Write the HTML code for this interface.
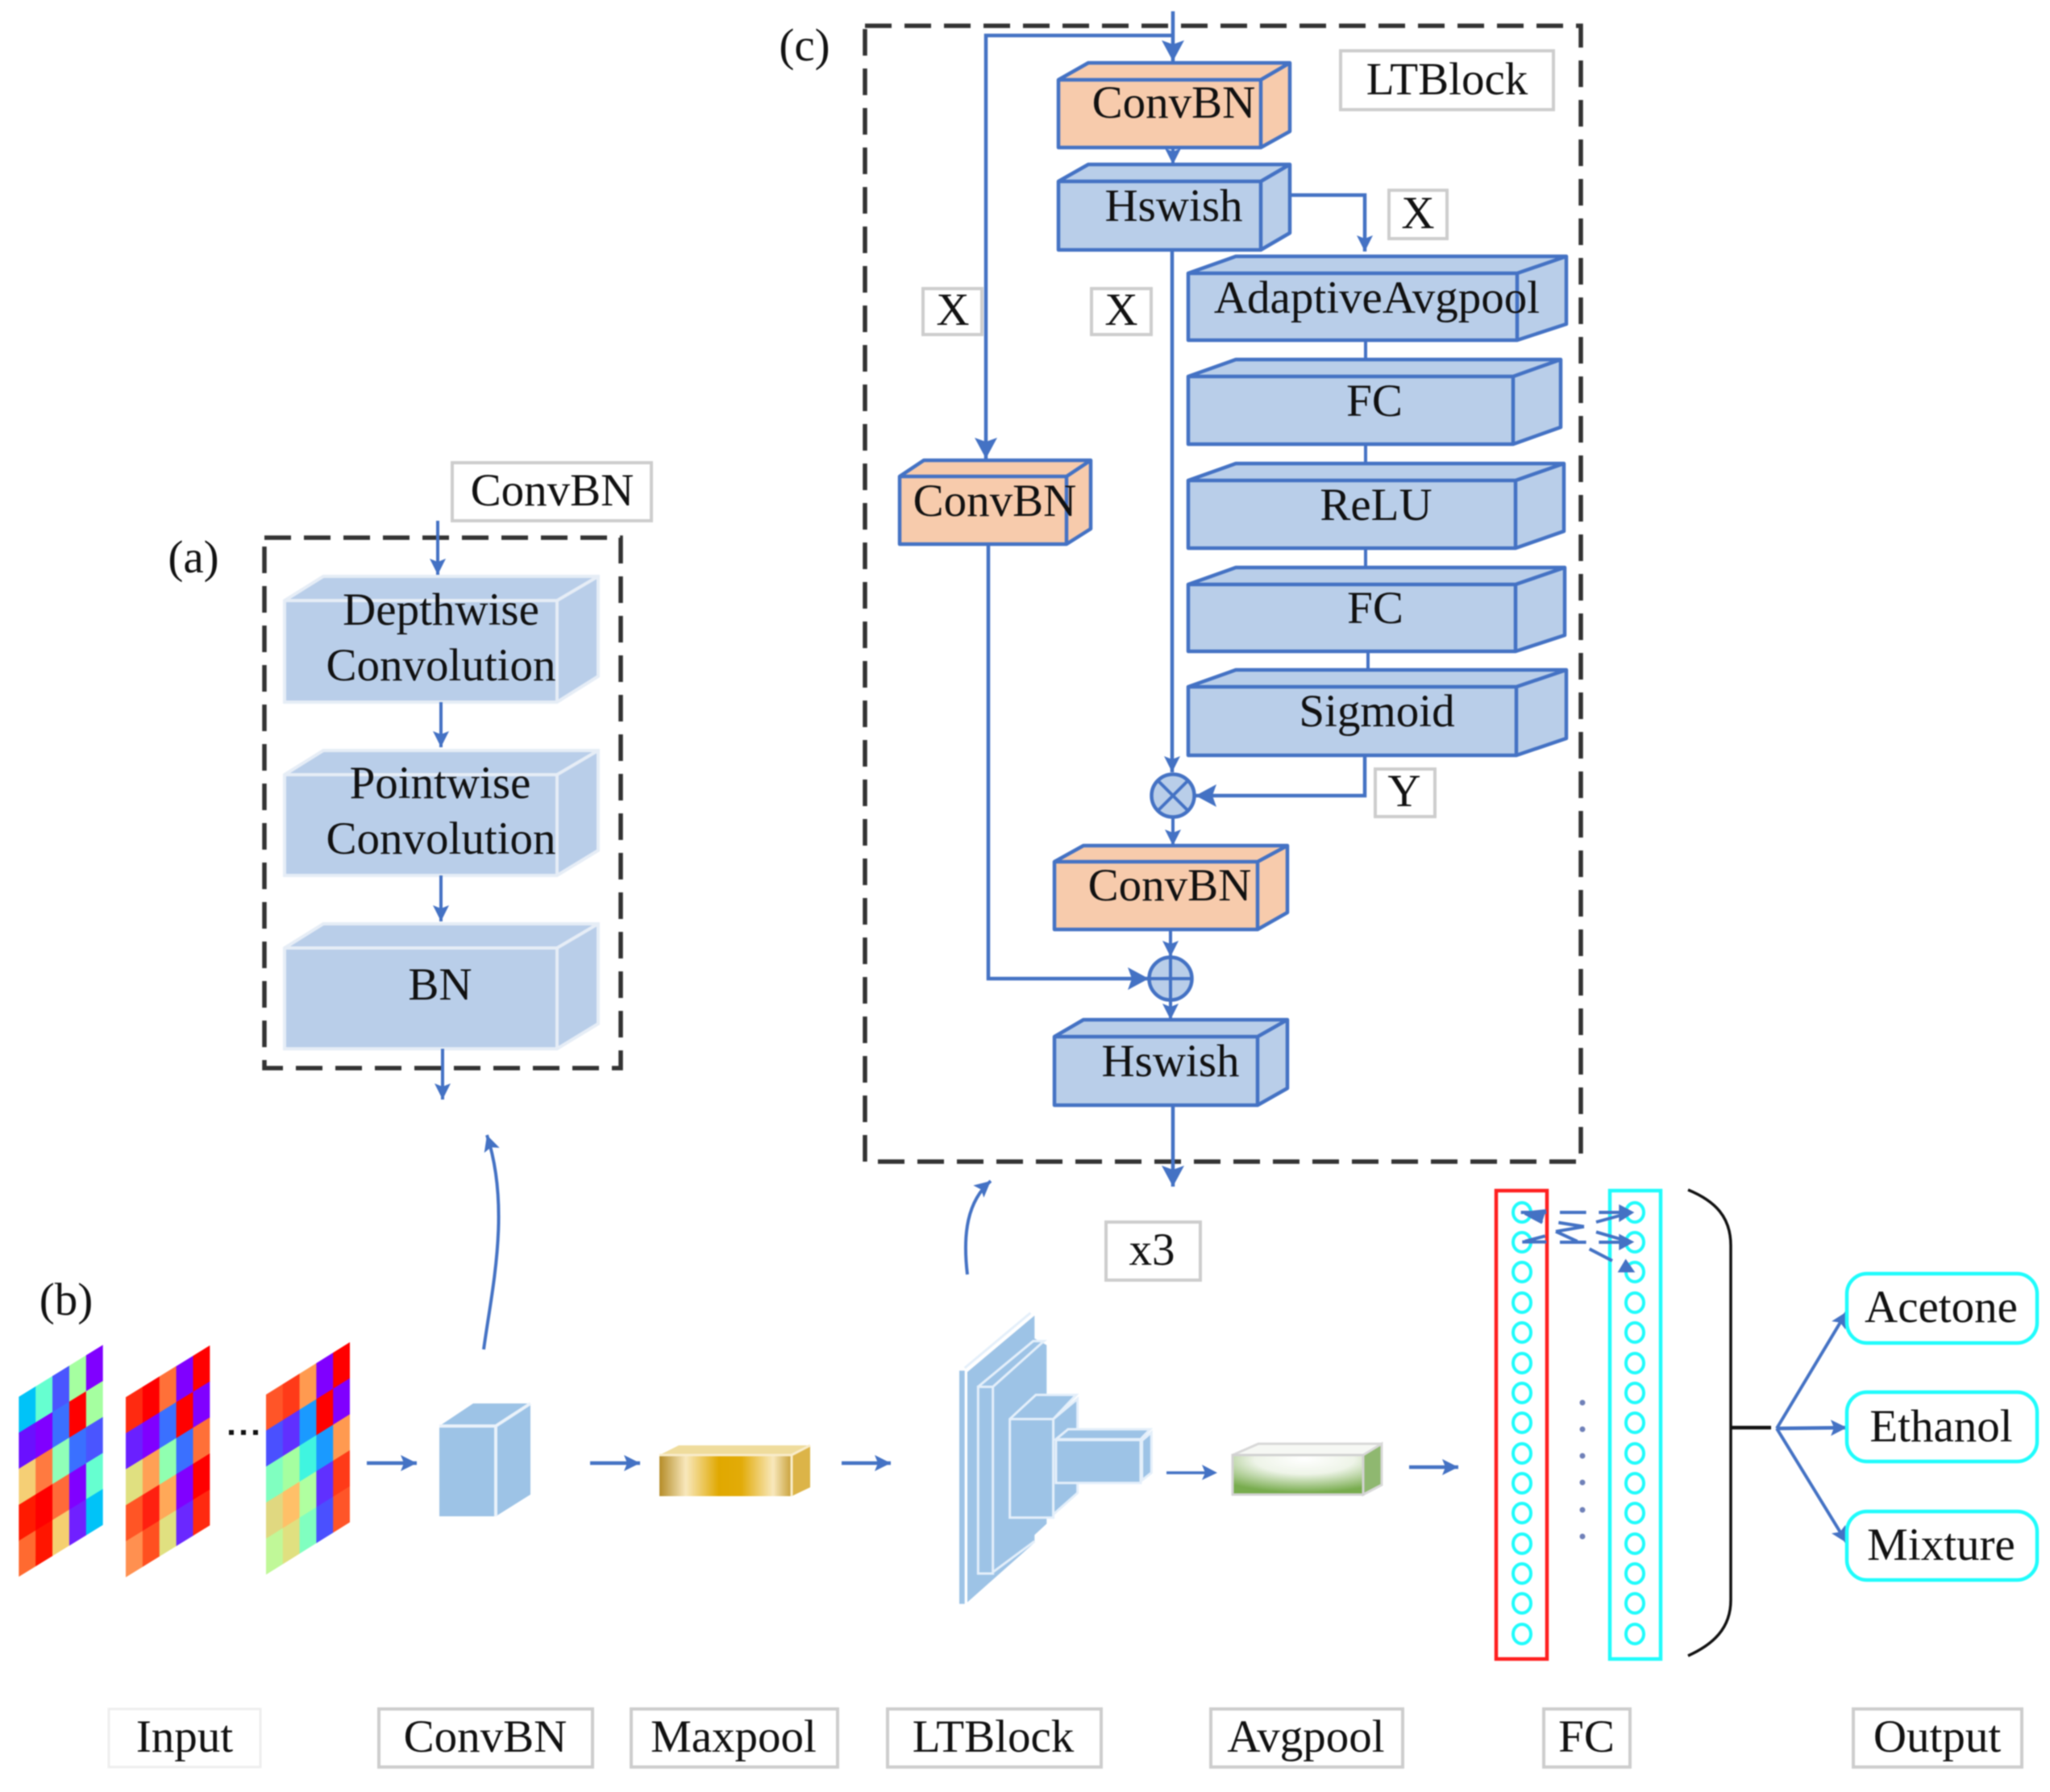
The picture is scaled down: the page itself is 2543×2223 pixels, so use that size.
<!DOCTYPE html>
<html><head><meta charset="utf-8"><title>Network diagram</title>
<style>
html,body{margin:0;padding:0;background:#fff}
svg{display:block;filter:blur(.8px)}
text{font-family:"Liberation Serif",serif;font-size:57px;fill:#111;text-anchor:middle}
.d{fill:none;stroke:#333;stroke-width:5.5;stroke-dasharray:33 16}
.l{fill:none;stroke:#4472c4;stroke-width:4}
.t{fill:none;stroke:#4472c4;stroke-width:4.5}
.bb{fill:#b9cee9;stroke:#4472c4;stroke-width:4.5;stroke-linejoin:round}
.pb{fill:#f7cbac;stroke:#4472c4;stroke-width:4.5;stroke-linejoin:round}
.wb{fill:#b9cee9;stroke:#e6edf6;stroke-width:4}
.lb{fill:#fff;stroke:#cdcdcd;stroke-width:4}
.k{fill:#9dc3e6;stroke:#e4effa;stroke-width:9}
.c{fill:none;stroke:#1ffcfc;stroke-width:4}
</style></head><body>
<svg xmlns="http://www.w3.org/2000/svg" width="2543" height="2223" viewBox="0 0 2543 2223">
<defs>
<marker id="a1" markerUnits="userSpaceOnUse" markerWidth="30" markerHeight="30" refX="26" refY="15" orient="auto"><path d="M0 1 L26 15 L0 29 L5 15z" fill="#4472c4"/></marker>
<marker id="a2" markerUnits="userSpaceOnUse" markerWidth="24" markerHeight="24" refX="20" refY="12" orient="auto"><path d="M0 2 L20 12 L0 22 L4 12z" fill="#4472c4"/></marker>
<linearGradient id="gold"><stop offset="0" stop-color="#b48c28"/><stop offset=".2" stop-color="#f8e8bc"/><stop offset=".45" stop-color="#e0a800"/><stop offset=".62" stop-color="#e2ab08"/><stop offset=".86" stop-color="#f8e8bc"/><stop offset="1" stop-color="#c8a038"/></linearGradient>
<radialGradient id="green" cx=".55" cy=".1" r=".85"><stop offset="0" stop-color="#fff"/><stop offset=".45" stop-color="#eef4e8"/><stop offset="1" stop-color="#78ac4e"/></radialGradient>
</defs>
<rect width="2543" height="2223" fill="#fff"/>

<!-- (c) dashed frame -->
<rect class="d" x="1073" y="32" width="888" height="1409"/>
<rect class="lb" x="1663" y="63" width="264" height="73"/>
<text x="1795" y="117">LTBlock</text>

<!-- boxes (c) -->
<path class="pb" d="M1313 99L1350 78H1600V163L1564 183H1313ZM1313 99H1564V183M1564 99L1600 78"/>
<path class="bb" d="M1313 225L1350 204H1600V289L1564 310H1313ZM1313 225H1564V310M1564 225L1600 204"/>
<path class="bb" d="M1474 339L1533 318H1943V402L1882 422H1474ZM1474 339H1882V422M1882 339L1943 318"/>
<path class="bb" d="M1474 467L1533 446H1936V530L1877 551H1474ZM1474 467H1877V551M1877 467L1936 446"/>
<path class="bb" d="M1474 596L1533 575H1940V659L1880 680H1474ZM1474 596H1880V680M1880 596L1940 575"/>
<path class="bb" d="M1474 725L1533 704H1941V788L1880 808H1474ZM1474 725H1880V808M1880 725L1941 704"/>
<path class="bb" d="M1474 852L1533 831H1943V916L1881 937H1474ZM1474 852H1881V937M1881 852L1943 831"/>
<path class="pb" d="M1116 591L1146 571H1353V656L1323 675H1116ZM1116 591H1323V675M1323 591L1353 571"/>
<path class="pb" d="M1308 1069L1344 1049H1597V1132L1560 1153H1308ZM1308 1069H1560V1153M1560 1069L1597 1049"/>
<path class="bb" d="M1308 1286L1344 1265H1597V1350L1560 1371H1308ZM1308 1286H1560V1371M1560 1286L1597 1265"/>

<!-- connectors (c) -->
<path class="t" d="M1455 14V76" marker-end="url(#a1)"/>
<path class="t" d="M1455 44H1223V569" marker-end="url(#a1)"/>
<path class="l" d="M1455 183V204" marker-end="url(#a2)"/>
<path class="t" d="M1600 242H1693V312" marker-end="url(#a2)"/>
<path class="l" d="M1694 422V446M1694 551V575M1694 680V704M1697 808V831"/>
<path class="t" d="M1454 310V958" marker-end="url(#a2)"/>
<path class="t" d="M1693 937V987H1483" marker-end="url(#a1)"/>
<path class="l" d="M1455 1014V1049" marker-end="url(#a2)"/>
<path class="l" d="M1452 1153V1187" marker-end="url(#a2)"/>
<path class="l" d="M1452 1241V1265" marker-end="url(#a2)"/>
<path class="t" d="M1226 675V1214H1425" marker-end="url(#a1)"/>
<path class="t" d="M1455 1371V1472" marker-end="url(#a1)"/>

<circle cx="1455" cy="987" r="26.5" fill="#b9cee9" stroke="#4472c4" stroke-width="4.5"/>
<path class="l" d="M1436 968L1474 1006M1474 968L1436 1006"/>
<circle cx="1452" cy="1214" r="26.5" fill="#b9cee9" stroke="#4472c4" stroke-width="4.5"/>
<path class="l" d="M1425 1214H1479M1452 1187V1241"/>

<rect class="lb" x="1723" y="236" width="72" height="60"/>
<rect class="lb" x="1145" y="358" width="73" height="57"/>
<rect class="lb" x="1354" y="358" width="74" height="57"/>
<rect class="lb" x="1706" y="954" width="74" height="59"/>
<text x="1759" y="283">X</text><text x="1182" y="403">X</text><text x="1391" y="403">X</text><text x="1742" y="1000">Y</text>
<text x="1456" y="146">ConvBN</text>
<text x="1456" y="274">Hswish</text>
<text x="1708" y="388">AdaptiveAvgpool</text>
<text x="1705" y="516">FC</text>
<text x="1707" y="645">ReLU</text>
<text x="1706" y="773">FC</text>
<text x="1708" y="901">Sigmoid</text>
<text x="1234" y="640">ConvBN</text>
<text x="1451" y="1117">ConvBN</text>
<text x="1452" y="1335">Hswish</text>
<text x="998" y="75">(c)</text>

<!-- (a) -->
<rect class="lb" x="561" y="574" width="247" height="72"/>
<text x="685" y="627">ConvBN</text>
<text x="240" y="710">(a)</text>
<rect class="d" x="328" y="667" width="442" height="658"/>
<path class="wb" d="M353 745L401 715H742V839L691 871H353ZM353 745H691V871M691 745L742 715"/>
<path class="wb" d="M353 961L401 931H742V1055L691 1086H353ZM353 961H691V1086M691 961L742 931"/>
<path class="wb" d="M353 1176L401 1146H742V1270L691 1301H353ZM353 1176H691V1301M691 1176L742 1146"/>
<path class="l" d="M543 646V713" marker-end="url(#a2)"/>
<path class="l" d="M547 871V927" marker-end="url(#a2)"/>
<path class="l" d="M547 1086V1143" marker-end="url(#a2)"/>
<path class="l" d="M549 1301V1364" marker-end="url(#a2)"/>
<text x="547" y="775">Depthwise</text><text x="547" y="844">Convolution</text>
<text x="546" y="990">Pointwise</text><text x="547" y="1059">Convolution</text>
<text x="546" y="1240">BN</text>

<!-- (b) -->
<text x="82" y="1631">(b)</text>
<g transform="matrix(20.87,-12.87,0,44.67,23.3,1732.7)">
<rect x="0" y="0" width="1.02" height="1.02" fill="#00c3f8"/><rect x="0" y="1" width="1.02" height="1.02" fill="#6a10ff"/><rect x="0" y="2" width="1.02" height="1.02" fill="#f5cf75"/><rect x="0" y="3" width="1.02" height="1.02" fill="#ff1a00"/><rect x="0" y="4" width="1.02" height="1" fill="#ff6a30"/>
<rect x="1" y="0" width="1.02" height="1.02" fill="#66ffd0"/><rect x="1" y="1" width="1.02" height="1.02" fill="#8000ff"/><rect x="1" y="2" width="1.02" height="1.02" fill="#ff7a40"/><rect x="1" y="3" width="1.02" height="1.02" fill="#ff0000"/><rect x="1" y="4" width="1.02" height="1" fill="#ff1500"/>
<rect x="2" y="0" width="1.02" height="1.02" fill="#4a55ff"/><rect x="2" y="1" width="1.02" height="1.02" fill="#3a70ff"/><rect x="2" y="2" width="1.02" height="1.02" fill="#90ffb8"/><rect x="2" y="3" width="1.02" height="1.02" fill="#ff6a38"/><rect x="2" y="4" width="1.02" height="1" fill="#f5d070"/>
<rect x="3" y="0" width="1.02" height="1.02" fill="#a5ffa0"/><rect x="3" y="1" width="1.02" height="1.02" fill="#ff0000"/><rect x="3" y="2" width="1.02" height="1.02" fill="#3a70ff"/><rect x="3" y="3" width="1.02" height="1.02" fill="#8000ff"/><rect x="3" y="4" width="1.02" height="1" fill="#7020ff"/>
<rect x="4" y="0" width="1" height="1.02" fill="#8000ff"/><rect x="4" y="1" width="1" height="1.02" fill="#a5ffa0"/><rect x="4" y="2" width="1" height="1.02" fill="#4a55ff"/><rect x="4" y="3" width="1" height="1.02" fill="#66ffd0"/><rect x="4" y="4" width="1" height="1" fill="#00c3f8"/>
</g>
<g transform="matrix(20.87,-12.87,0,44.67,156,1733.3)">
<rect x="0" y="0" width="1.02" height="1.02" fill="#ff2a10"/><rect x="0" y="1" width="1.02" height="1.02" fill="#6a20ff"/><rect x="0" y="2" width="1.02" height="1.02" fill="#e0e080"/><rect x="0" y="3" width="1.02" height="1.02" fill="#ff5525"/><rect x="0" y="4" width="1.02" height="1" fill="#ff9050"/>
<rect x="1" y="0" width="1.02" height="1.02" fill="#ff0000"/><rect x="1" y="1" width="1.02" height="1.02" fill="#8000ff"/><rect x="1" y="2" width="1.02" height="1.02" fill="#ffa055"/><rect x="1" y="3" width="1.02" height="1.02" fill="#ff2010"/><rect x="1" y="4" width="1.02" height="1" fill="#ff5020"/>
<rect x="2" y="0" width="1.02" height="1.02" fill="#ff7038"/><rect x="2" y="1" width="1.02" height="1.02" fill="#3a70ff"/><rect x="2" y="2" width="1.02" height="1.02" fill="#90ffb0"/><rect x="2" y="3" width="1.02" height="1.02" fill="#ffa858"/><rect x="2" y="4" width="1.02" height="1" fill="#e0e080"/>
<rect x="3" y="0" width="1.02" height="1.02" fill="#8000ff"/><rect x="3" y="1" width="1.02" height="1.02" fill="#ff0000"/><rect x="3" y="2" width="1.02" height="1.02" fill="#3a70ff"/><rect x="3" y="3" width="1.02" height="1.02" fill="#8000ff"/><rect x="3" y="4" width="1.02" height="1" fill="#6a28ff"/>
<rect x="4" y="0" width="1" height="1.02" fill="#ff0000"/><rect x="4" y="1" width="1" height="1.02" fill="#8000ff"/><rect x="4" y="2" width="1" height="1.02" fill="#ff7038"/><rect x="4" y="3" width="1" height="1.02" fill="#ff0000"/><rect x="4" y="4" width="1" height="1" fill="#ff2a10"/>
</g>
<g transform="matrix(20.8,-13,0,44.67,330,1730)">
<rect x="0" y="0" width="1.02" height="1.02" fill="#ff5528"/><rect x="0" y="1" width="1.02" height="1.02" fill="#4a50ff"/><rect x="0" y="2" width="1.02" height="1.02" fill="#80ffc0"/><rect x="0" y="3" width="1.02" height="1.02" fill="#e0d880"/><rect x="0" y="4" width="1.02" height="1" fill="#c0f898"/>
<rect x="1" y="0" width="1.02" height="1.02" fill="#ff3a18"/><rect x="1" y="1" width="1.02" height="1.02" fill="#6030ff"/><rect x="1" y="2" width="1.02" height="1.02" fill="#a5ffa0"/><rect x="1" y="3" width="1.02" height="1.02" fill="#ffc068"/><rect x="1" y="4" width="1.02" height="1" fill="#e0e080"/>
<rect x="2" y="0" width="1.02" height="1.02" fill="#ff9a50"/><rect x="2" y="1" width="1.02" height="1.02" fill="#1a9aff"/><rect x="2" y="2" width="1.02" height="1.02" fill="#40f5e0"/><rect x="2" y="3" width="1.02" height="1.02" fill="#b0ffa0"/><rect x="2" y="4" width="1.02" height="1" fill="#80ffc0"/>
<rect x="3" y="0" width="1.02" height="1.02" fill="#8000ff"/><rect x="3" y="1" width="1.02" height="1.02" fill="#ff0000"/><rect x="3" y="2" width="1.02" height="1.02" fill="#1a9aff"/><rect x="3" y="3" width="1.02" height="1.02" fill="#6030ff"/><rect x="3" y="4" width="1.02" height="1" fill="#4a50ff"/>
<rect x="4" y="0" width="1" height="1.02" fill="#ff0000"/><rect x="4" y="1" width="1" height="1.02" fill="#8000ff"/><rect x="4" y="2" width="1" height="1.02" fill="#ff9a50"/><rect x="4" y="3" width="1" height="1.02" fill="#ff3a18"/><rect x="4" y="4" width="1" height="1" fill="#ff5528"/>
</g>
<rect x="284" y="1774" width="6" height="6" fill="#111"/><rect x="299" y="1774" width="6" height="6" fill="#111"/><rect x="314" y="1774" width="6" height="6" fill="#111"/>

<!-- ConvBN cube -->
<path d="M545 1769L587 1741H658V1854L615 1881H545Z" fill="#9dc3e6"/>
<path d="M545 1769H615V1881M615 1769L658 1741" fill="none" stroke="#eaf2fa" stroke-width="4"/>
<path class="t" d="M455 1815H517" marker-end="url(#a2)"/>
<path class="t" d="M732 1815H794" marker-end="url(#a2)"/>
<path class="t" d="M1044 1815H1105" marker-end="url(#a2)"/>
<path class="l" d="M600 1674C610 1600 634 1500 604 1408" marker-end="url(#a2)"/>
<path class="l" d="M1200 1581C1194 1530 1200 1490 1229 1465" marker-end="url(#a2)"/>

<!-- Maxpool -->
<path d="M818 1805L842 1793H1005V1845L982 1856H818Z" fill="#efdc9c"/>
<rect x="818" y="1805" width="164" height="51" fill="url(#gold)"/>
<path d="M982 1805L1005 1793V1845L982 1856Z" fill="#dcb448"/>
<path d="M818 1805H982L1005 1793M982 1805V1856" fill="none" stroke="#f8ecca" stroke-width="3"/>

<!-- LTBlock stack -->
<g transform="translate(1150,1597) scale(.3333)">
<rect x="120" y="310" width="20" height="868" fill="#9dc3e6"/>
<path d="M150 315L400 105V950L150 1172Z" fill="#9dc3e6"/>
<path d="M140 300L385 95" fill="none" stroke="#e4effa" stroke-width="9"/>
<path d="M400 190L445 215V880L250 1060L190 1065V370Z" fill="#9dc3e6"/>
<path d="M190 370L395 200H435L245 370M190 370H245V1065H190ZM245 1060L400 945" fill="none" stroke="#e4effa" stroke-width="9"/>
<path class="k" d="M308 490L405 400H555L470 490V857H308Z"/>
<path class="k" d="M470 490L560 415V765L470 845Z"/>
<path d="M308 490H470" stroke="#e4effa" stroke-width="9"/>
<path class="k" d="M480 568H795V728H480Z"/>
<path class="k" d="M480 565L525 528H830L795 565Z"/>
<path class="k" d="M800 570L835 540V690L800 718Z"/>
</g>
<path d="M1447 1827H1506" stroke="#4472c4" stroke-width="3.5" fill="none"/>
<path d="M1491 1817L1510 1827L1491 1836L1495 1827Z" fill="#4472c4"/>

<!-- Avgpool -->
<path d="M1529 1805L1561 1791H1714V1842L1691 1854H1529Z" fill="#f6f8f4" stroke="#d8d8d8" stroke-width="3"/>
<path d="M1691 1805L1714 1791V1842L1691 1854Z" fill="#8fb870" stroke="#d8d8d8" stroke-width="3"/>
<rect x="1529" y="1805" width="162" height="49" fill="url(#green)" stroke="#d2d2d2" stroke-width="3"/>
<path class="t" d="M1748 1820H1809" marker-end="url(#a2)"/>

<!-- FC -->
<rect x="1856" y="1477" width="63" height="581" fill="#fff" stroke="#ff1f1f" stroke-width="4.5"/>
<rect x="1997" y="1477" width="63" height="581" fill="#fff" stroke="#1ffcfc" stroke-width="4.5"/>
<g class="c">
<ellipse cx="1888" cy="1504" rx="11" ry="12"/><ellipse cx="1888" cy="1541" rx="11" ry="12"/><ellipse cx="1888" cy="1578" rx="11" ry="12"/><ellipse cx="1888" cy="1616" rx="11" ry="12"/><ellipse cx="1888" cy="1653" rx="11" ry="12"/><ellipse cx="1888" cy="1691" rx="11" ry="12"/><ellipse cx="1888" cy="1728" rx="11" ry="12"/><ellipse cx="1888" cy="1765" rx="11" ry="12"/><ellipse cx="1888" cy="1803" rx="11" ry="12"/><ellipse cx="1888" cy="1840" rx="11" ry="12"/><ellipse cx="1888" cy="1877" rx="11" ry="12"/><ellipse cx="1888" cy="1915" rx="11" ry="12"/><ellipse cx="1888" cy="1952" rx="11" ry="12"/><ellipse cx="1888" cy="1989" rx="11" ry="12"/><ellipse cx="1888" cy="2027" rx="11" ry="12"/>
<ellipse cx="2028" cy="1504" rx="11" ry="12"/><ellipse cx="2028" cy="1541" rx="11" ry="12"/><ellipse cx="2028" cy="1578" rx="11" ry="12"/><ellipse cx="2028" cy="1616" rx="11" ry="12"/><ellipse cx="2028" cy="1653" rx="11" ry="12"/><ellipse cx="2028" cy="1691" rx="11" ry="12"/><ellipse cx="2028" cy="1728" rx="11" ry="12"/><ellipse cx="2028" cy="1765" rx="11" ry="12"/><ellipse cx="2028" cy="1803" rx="11" ry="12"/><ellipse cx="2028" cy="1840" rx="11" ry="12"/><ellipse cx="2028" cy="1877" rx="11" ry="12"/><ellipse cx="2028" cy="1915" rx="11" ry="12"/><ellipse cx="2028" cy="1952" rx="11" ry="12"/><ellipse cx="2028" cy="1989" rx="11" ry="12"/><ellipse cx="2028" cy="2027" rx="11" ry="12"/>
</g>
<g transform="translate(1820,1460) scale(.3333)">
<path d="M200 132H295M215 135L280 170M205 242H295M215 240L290 220M345 132H443M340 170L435 185M330 203L435 185M330 203L410 240M345 243H443M455 268L540 312M490 132H600M480 168L600 135M480 205L600 240M490 243H600" fill="none" stroke="#4472c4" stroke-width="12"/>
<path d="M200 130L295 120L280 165Z M565 102L622 132L565 168Z M565 212L622 242L565 273Z M590 305L625 355L560 355Z" fill="#4472c4"/>
</g>
<g fill="#6f80b8"><circle cx="1963" cy="1740" r="3.5"/><circle cx="1963" cy="1773" r="3.5"/><circle cx="1963" cy="1806" r="3.5"/><circle cx="1963" cy="1839" r="3.5"/><circle cx="1963" cy="1873" r="3.5"/><circle cx="1963" cy="1906" r="3.5"/></g>

<!-- brace and outputs -->
<path d="M2094 1476C2128 1490 2147 1510 2147 1545V1985C2147 2020 2125 2040 2094 2054" fill="none" stroke="#111" stroke-width="3.5"/>
<path d="M2147 1771H2197" stroke="#111" stroke-width="4.5"/>
<path class="l" d="M2204 1772L2291 1627" marker-end="url(#a2)"/>
<path class="t" d="M2204 1772L2291 1771" marker-end="url(#a2)"/>
<path class="l" d="M2204 1772L2291 1914" marker-end="url(#a2)"/>
<rect x="2291" y="1580" width="236" height="86" rx="25" fill="#fff" stroke="#1ffcfc" stroke-width="4.5"/>
<rect x="2291" y="1727" width="236" height="86" rx="25" fill="#fff" stroke="#1ffcfc" stroke-width="4.5"/>
<rect x="2291" y="1875" width="236" height="85" rx="25" fill="#fff" stroke="#1ffcfc" stroke-width="4.5"/>
<text x="2408" y="1640">Acetone</text>
<text x="2408" y="1788">Ethanol</text>
<text x="2408" y="1935">Mixture</text>

<!-- x3 and bottom labels -->
<rect class="lb" x="1372" y="1516" width="117" height="72"/>
<text x="1429" y="1569">x3</text>
<rect x="135" y="2120" width="188" height="72" fill="#fff" stroke="#eeeeee" stroke-width="3"/>
<rect class="lb" x="470" y="2120" width="265" height="72"/>
<rect class="lb" x="783" y="2120" width="256" height="72"/>
<rect class="lb" x="1101" y="2120" width="265" height="72"/>
<rect class="lb" x="1502" y="2120" width="238" height="72"/>
<rect class="lb" x="1915" y="2120" width="107" height="72"/>
<rect class="lb" x="2299" y="2120" width="209" height="72"/>
<text x="229" y="2173">Input</text>
<text x="602" y="2173">ConvBN</text>
<text x="910" y="2173">Maxpool</text>
<text x="1232" y="2173">LTBlock</text>
<text x="1620" y="2173">Avgpool</text>
<text x="1968" y="2173">FC</text>
<text x="2403" y="2173">Output</text>
</svg>
</body></html>
